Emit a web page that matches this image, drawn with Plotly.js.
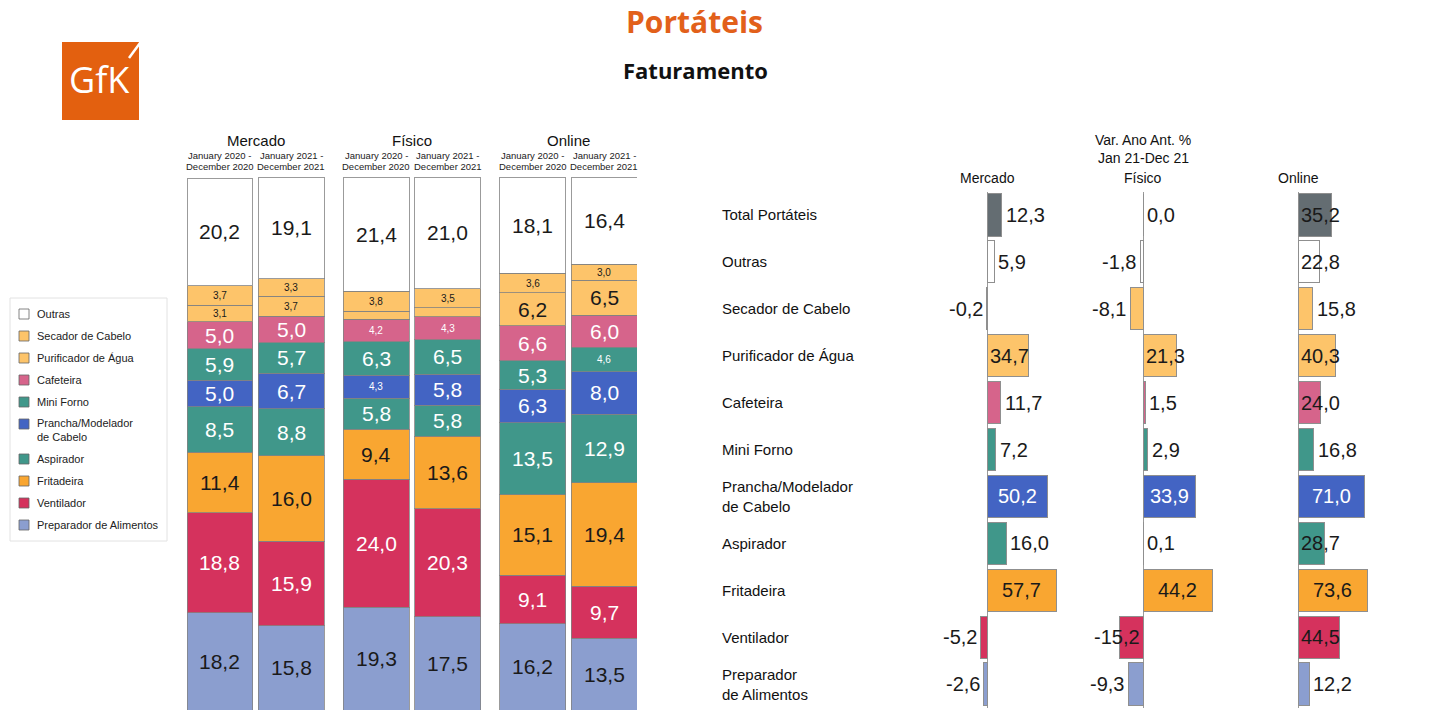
<!DOCTYPE html>
<html><head><meta charset="utf-8">
<script src="https://cdn.plot.ly/plotly-3.0.1.min.js"></script>
<style>html,body{margin:0;padding:0;background:#fff;} #chart{width:1430px;height:721px;}</style>
</head><body><div id="chart"></div>
<script>
// ---------------- DATA ----------------
const stackCategories = ["Outras","Secador de Cabelo","Purificador de Água","Cafeteira","Mini Forno","Prancha/Modelador<br>de Cabelo","Aspirador","Fritadeira","Ventilador","Preparador de Alimentos"];
const channels = ["Mercado","Físico","Online"];
const periodLine1 = ["January 2020 -","January 2021 -"];
const periodLine2 = ["December 2020","December 2021"];
// column order: Mercado 2020, Mercado 2021, Físico 2020, Físico 2021, Online 2020, Online 2021
const outras      = [20.2,19.1,21.4,21.0,18.1,16.4];
const secador     = [3.7,3.3,3.8,3.5,3.6,3.0];
const purificador = [3.1,3.7,1.5,1.7,6.2,6.5];
const cafeteira   = [5.0,5.0,4.2,4.3,6.6,6.0];
const miniForno   = [5.9,5.7,6.3,6.5,5.3,4.6];
const prancha     = [5.0,6.7,4.3,5.8,6.3,8.0];
const aspirador   = [8.5,8.8,5.8,5.8,13.5,12.9];
const fritadeira  = [11.4,16.0,9.4,13.6,15.1,19.4];
const ventilador  = [18.8,15.9,24.0,20.3,9.1,9.7];
const preparador  = [18.2,15.8,19.3,17.5,16.2,13.5];
const stackSeries = [outras,secador,purificador,cafeteira,miniForno,prancha,aspirador,fritadeira,ventilador,preparador];

const varTitle1 = "Var. Ano Ant. %";
const varTitle2 = "Jan 21-Dec 21";
const varCategories = ["Total Portáteis","Outras","Secador de Cabelo","Purificador de Água","Cafeteira","Mini Forno","Prancha/Modelador<br>de Cabelo","Aspirador","Fritadeira","Ventilador","Preparador<br>de Alimentos"];
const varMercado = [12.3,5.9,-0.2,34.7,11.7,7.2,50.2,16.0,57.7,-5.2,-2.6];
const varFisico  = [0.0,-1.8,-8.1,21.3,1.5,2.9,33.9,0.1,44.2,-15.2,-9.3];
const varOnline  = [35.2,22.8,15.8,40.3,24.0,16.8,71.0,28.7,73.6,44.5,12.2];
const varSeries = [varMercado,varFisico,varOnline];

// ---------------- STYLE ----------------
const W = 1430, H = 721;
const px = p => p / W;
const py = p => 1 - p / H;
const FONT = "Liberation Sans, Arial, sans-serif";
const C = {white:'#ffffff', light:'#fdc46a', pink:'#d6648b', teal:'#40978a', blue:'#4364c3',
           orange:'#f9a631', red:'#d5325d', lav:'#8b9ecf', gray:'#646d72'};
const DARK = '#1a1a1a';
const stackColors = [C.white,C.light,C.light,C.pink,C.teal,C.blue,C.teal,C.orange,C.red,C.lav];
const stackInk = [DARK,DARK,DARK,'#fff','#fff','#fff','#fff',DARK,'#fff',DARK];
const varColors = [C.gray,C.white,C.light,C.light,C.pink,C.teal,C.blue,C.teal,C.orange,C.red,C.lav];
const varInk = ['#fff',DARK,DARK,DARK,'#fff','#fff','#fff','#fff',DARK,'#fff',DARK];
const fmt = v => v.toFixed(1).replace('.', ',');
const charW = ch => (ch === ',' || ch === '.') ? 0.278 : (ch === '-' ? 0.333 : 0.556);
const textW = (s, size) => s.split('').reduce((a, ch) => a + charW(ch), 0) * size;

// column positions (layout, computed)
const GROUP = 156.5, INTRA = 71.5, BARW = 66;
const colPos = [];
channels.forEach((c, g) => [0,1].forEach(i => colPos.push(g*GROUP + i*INTRA)));

const traces = [];
const annotations = [];
const shapes = [];
function note(o) {
  annotations.push(Object.assign({showarrow:false, xanchor:'center', yanchor:'middle'}, o));
}

// ---- left stacked columns (bottom first) ----
for (let k = stackSeries.length - 1; k >= 0; k--) {
  traces.push({
    type:'bar', x: colPos, y: stackSeries[k], width: BARW, name: stackCategories[k],
    marker:{color: stackColors[k], line:{color:'rgba(130,130,130,0.8)', width:1}},
    xaxis:'x', yaxis:'y', hoverinfo:'skip', showlegend:false
  });
}
colPos.forEach((xp, j) => {
  let base = 0;
  for (let k = stackSeries.length - 1; k >= 0; k--) {
    const v = stackSeries[k][j];
    const mid = base + v/2;
    base += v;
    if (v < 2) continue;
    note({xref:'x', yref:'y', x:xp, y:mid, text: fmt(v),
      font:{family:FONT, size: v < 5 ? 10 : 21, color: stackInk[k]}});
  }
});
// headers above columns
channels.forEach((c, g) => {
  note({xref:'x', yref:'paper', x: g*GROUP + INTRA/2, y: py(140), text:c,
    font:{family:FONT, size:15, color:'#111'}});
  [0,1].forEach(i => {
    note({xref:'x', yref:'paper', x: g*GROUP + i*INTRA, y: py(155), text: periodLine1[i],
      font:{family:FONT, size:9.5, color:'#222'}});
    note({xref:'x', yref:'paper', x: g*GROUP + i*INTRA, y: py(166), text: periodLine2[i],
      font:{family:FONT, size:9.5, color:'#222'}});
  });
});

// ---- manual legend ----
shapes.push({type:'rect', xref:'paper', yref:'paper', x0:px(10), x1:px(167), y0:py(298), y1:py(541),
  line:{color:'#e2e2e2', width:1}, fillcolor:'#fff', layer:'below'});
const legendY = [314,336,358,380,402,424,459,481,503,525];
stackCategories.forEach((name, k) => {
  const yc = legendY[k];
  const multi = name.includes('<br>');
  shapes.push({type:'rect', xref:'paper', yref:'paper', x0:px(19), x1:px(29), y0:py(yc+5), y1:py(yc-5),
    fillcolor: stackColors[k], line:{color:'#666', width:0.8}});
  note({xref:'paper', yref:'paper', x:px(35), y:py(multi ? yc + 6.5 : yc),
    xanchor:'left', align:'left', text:name, font:{family:FONT, size:11, color:'#222'}});
});

// ---- right variation panels ----
const zeroPx = [987, 1143, 1298];
const LPX = 45, RPX = 110, MAXPX = 69;
const xaxNames = ['x2','x3','x4'];
const layoutAxes = {};
varSeries.forEach((vals, p) => {
  const maxV = Math.max(...vals.map(Math.abs));
  const s = MAXPX / maxV;
  const z = zeroPx[p];
  const axKey = 'xaxis' + (p + 2);
  layoutAxes[axKey] = {domain:[px(z - LPX), px(z + RPX)], range:[-LPX/s, RPX/s], anchor:'y2',
    showgrid:false, showticklabels:false, ticks:'', showline:false,
    zeroline:true, zerolinecolor:'#9a9a9a', zerolinewidth:1, fixedrange:true};
  traces.push({type:'bar', orientation:'h', x: vals, y: varCategories.map((c,i)=>i), width:0.9,
    marker:{color: varColors, line:{color:'#8f8f8f', width:1}},
    xaxis: xaxNames[p], yaxis:'y2', hoverinfo:'skip', showlegend:false});
  vals.forEach((v, i) => {
    const txt = fmt(v);
    const bw = Math.abs(v) * s;
    const lw = textW(txt, 20);
    let a;
    if (bw >= lw + 8) {
      a = {x: v/2, xanchor:'center', xshift:0, color: varInk[i]};
    } else if (bw >= 20) {
      a = {x: 0, xanchor: v > 0 ? 'left' : 'right', xshift: v > 0 ? 1 : -1, color: DARK};
    } else {
      a = {x: v, xanchor: v >= 0 ? 'left' : 'right', xshift: v >= 0 ? 2 : -2, color: DARK};
    }
    note({xref: xaxNames[p], yref:'y2', x:a.x, y:i, text:txt, xanchor:a.xanchor, xshift:a.xshift,
      font:{family:FONT, size:20, color:a.color}});
  });
  note({xref:'paper', yref:'paper', x:px(z), y:py(178), text: channels[p],
    font:{family:FONT, size:14, color:'#111'}});
});
note({xref:'paper', yref:'paper', x:px(1143), y:py(140), text: varTitle1,
  font:{family:FONT, size:14, color:'#111'}});
note({xref:'paper', yref:'paper', x:px(1143), y:py(158), text: varTitle2,
  font:{family:FONT, size:14, color:'#111'}});
varCategories.forEach((c, i) => {
  note({xref:'paper', yref:'y2', x:px(720), y:i, text:c, xanchor:'left', align:'left',
    font:{family:FONT, size:15, color:'#111'}});
});

// ---- titles & logo ----
note({xref:'paper', yref:'paper', x:px(694), y:py(22), text:'<b>Portáteis</b>',
  font:{family:'Open Sans, sans-serif', size:30, color:'#e2601a'}});
note({xref:'paper', yref:'paper', x:px(695), y:py(70), text:'<b>Faturamento</b>',
  font:{family:'Open Sans, sans-serif', size:22, color:'#111'}});
shapes.push({type:'rect', xref:'paper', yref:'paper', x0:px(62), x1:px(139), y0:py(120), y1:py(42),
  fillcolor:'#e3600f', line:{width:0}});
shapes.push({type:'line', xref:'paper', yref:'paper', x0:px(140), y0:py(43), x1:px(129), y1:py(58),
  line:{color:'#fff', width:2.5}});
note({xref:'paper', yref:'paper', x:px(99), y:py(80), text:'GfK',
  font:{family:'Open Sans, sans-serif', size:36, color:'#fff'}});

const layout = Object.assign({
  width:W, height:H, margin:{l:0,r:0,t:0,b:0}, paper_bgcolor:'#fff', plot_bgcolor:'rgba(0,0,0,0)',
  barmode:'stack', showlegend:false, bargap:0,
  xaxis:{domain:[px(187), px(637)], range:[-BARW/2, colPos[colPos.length-1] + BARW/2], anchor:'y',
    showgrid:false, zeroline:false, showticklabels:false, ticks:'', showline:false, fixedrange:true},
  yaxis:{domain:[py(710), py(177)], range:[0,100], anchor:'x',
    showgrid:false, zeroline:false, showticklabels:false, ticks:'', showline:false, fixedrange:true},
  yaxis2:{domain:[py(707.5), py(191.5)], range:[10.5,-0.5], anchor:'x2', type:'linear',
    showgrid:false, zeroline:false, showticklabels:false, ticks:'', showline:false, fixedrange:true},
  annotations, shapes
}, layoutAxes);

Plotly.newPlot('chart', traces, layout, {displayModeBar:false, staticPlot:true});
</script></body></html>
